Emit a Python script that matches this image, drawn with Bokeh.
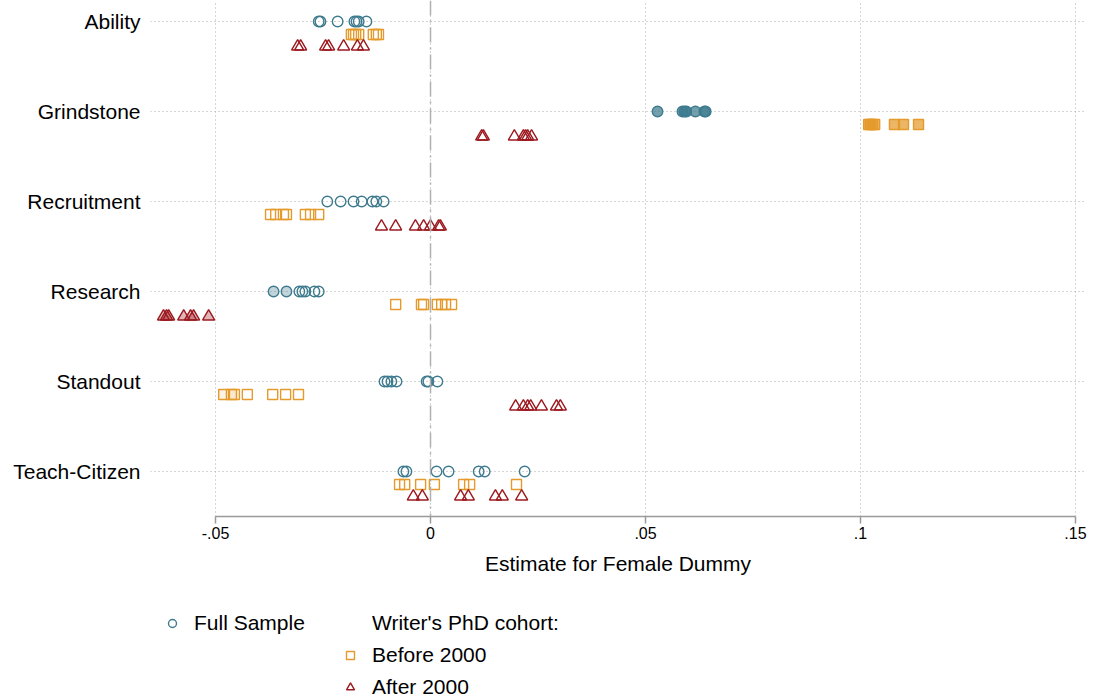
from bokeh.plotting import figure
from bokeh.layouts import column
from bokeh.models import (ColumnDataSource, Range1d, FixedTicker, Legend,
                          LegendItem, Span)
from bokeh.embed import file_html
from bokeh.resources import INLINE

categories = ["Ability", "Grindstone", "Recruitment", "Research", "Standout", "Teach-Citizen"]

full_sample = [
    [-0.0260, -0.0256, -0.0216, -0.0177, -0.0172, -0.0167, -0.0149],
    [0.0528, 0.0586, 0.0591, 0.0595, 0.0616, 0.0637, 0.0640],
    [-0.0240, -0.0209, -0.0179, -0.0160, -0.0135, -0.0126, -0.0109],
    [-0.0365, -0.0335, -0.0305, -0.0298, -0.0291, -0.0270, -0.0260],
    [-0.0107, -0.0100, -0.0091, -0.0079, -0.0009, -0.0005, 0.0016],
    [-0.0063, -0.0056, 0.0014, 0.0042, 0.0112, 0.0126, 0.0219],
]
before_2000 = [
    [-0.0184, -0.0179, -0.0174, -0.0167, -0.0133, -0.0126, -0.0121],
    [0.1019, 0.1023, 0.1028, 0.1033, 0.1079, 0.1100, 0.1135],
    [-0.0372, -0.0360, -0.0342, -0.0335, -0.0291, -0.0279, -0.0260],
    [-0.0081, -0.0021, -0.0016, 0.0016, 0.0026, 0.0035, 0.0049],
    [-0.0481, -0.0463, -0.0456, -0.0426, -0.0367, -0.0337, -0.0307],
    [-0.0072, -0.0060, -0.0023, 0.0009, 0.0077, 0.0091, 0.0200],
]
after_2000 = [
    [-0.0309, -0.0302, -0.0244, -0.0237, -0.0202, -0.0170, -0.0156],
    [0.0119, 0.0123, 0.0195, 0.0216, 0.0221, 0.0226, 0.0235],
    [-0.0114, -0.0081, -0.0035, -0.0016, 0.0000, 0.0019, 0.0023],
    [-0.0621, -0.0614, -0.0609, -0.0574, -0.0558, -0.0551, -0.0516],
    [0.0198, 0.0216, 0.0226, 0.0233, 0.0258, 0.0293, 0.0302],
    [-0.0040, -0.0019, 0.0070, 0.0088, 0.0151, 0.0167, 0.0212],
]
# significance level of each estimate (0 = none ... 3 = strongest)
full_sig = [
    [0] * 7, [3] * 7, [0] * 7, [2, 2, 0, 0, 0, 0, 0], [0] * 7, [0] * 7,
]
before_sig = [
    [0] * 7, [3] * 7, [0] * 7, [0] * 7, [1, 1, 1, 0, 0, 0, 0], [0] * 7,
]
after_sig = [
    [0] * 7, [0] * 7, [0] * 7, [2] * 7, [0] * 7, [0] * 7,
]

x_ticks = [-0.05, 0, 0.05, 0.1, 0.15]
x_tick_labels = ["-.05", "0", ".05", ".1", ".15"]

legend_labels = ["Full Sample", "Writer's PhD cohort:", "Before 2000", "After 2000"]

FONT = "Liberation Sans"
TEAL = "#3f7b8f"
ORANGE = "#e59a2c"
RED = "#9c1a20"
SIG_ALPHA = {0: 0.0, 1: 0.12, 2: 0.32, 3: 0.72}
NAN = float("nan")


def make_source(values, sigs, offset):
    xs, ys, fa = [], [], []
    for i, (vals, sg) in enumerate(zip(values, sigs)):
        for v, s in zip(vals, sg):
            xs.append(v)
            ys.append(-i + offset)
            fa.append(SIG_ALPHA[s])
    return ColumnDataSource(dict(x=xs, y=ys, fa=fa))


p = figure(width=1093, height=590, output_backend="svg", toolbar_location=None,
           x_range=Range1d(-0.06512, 0.15233), y_range=Range1d(-5.5, 21 / 90),
           min_border_left=150, min_border_right=8, min_border_top=0,
           min_border_bottom=74)
p.outline_line_color = None
p.background_fill_color = "white"
p.border_fill_color = "white"

# x axis
xa = p.xaxis[0]
xa.ticker = FixedTicker(ticks=x_ticks)
xa.major_label_overrides = {t: l for t, l in zip(x_ticks, x_tick_labels)}
xa.bounds = (x_ticks[0], x_ticks[-1])
xa.axis_line_color = "#9a9a9a"
xa.axis_line_width = 1.5
xa.major_tick_line_color = "#9a9a9a"
xa.major_tick_line_width = 1.5
xa.major_tick_out = 7
xa.major_tick_in = 0
xa.minor_tick_line_color = None
xa.major_label_text_font = FONT
xa.major_label_text_font_size = "16px"
xa.major_label_text_color = "black"
xa.major_label_standoff = 3
xa.axis_label = "Estimate for Female Dummy"
xa.axis_label_text_font = FONT
xa.axis_label_text_font_size = "21px"
xa.axis_label_text_font_style = "normal"
xa.axis_label_text_color = "black"
xa.axis_label_standoff = 10

# y axis
ya = p.yaxis[0]
y_ticks = [-i for i in range(len(categories))]
ya.ticker = FixedTicker(ticks=y_ticks)
ya.major_label_overrides = {t: c for t, c in zip(y_ticks, categories)}
ya.axis_line_color = None
ya.major_tick_line_color = None
ya.minor_tick_line_color = None
ya.major_label_text_font = FONT
ya.major_label_text_font_size = "21px"
ya.major_label_text_color = "black"
ya.major_label_standoff = 4

# grids
p.xgrid.ticker = FixedTicker(ticks=x_ticks)
p.xgrid.grid_line_color = "#ababab"
p.xgrid.grid_line_dash = "1 3"
p.xgrid.grid_line_width = 1
p.ygrid.ticker = FixedTicker(ticks=y_ticks)
p.ygrid.grid_line_color = "#ababab"
p.ygrid.grid_line_dash = "1 3"
p.ygrid.grid_line_width = 1

p.add_layout(Span(location=0, dimension="height", line_color="#b0b0b0",
                  line_width=1.5, line_dash="15 5 2 5"))

src_full = make_source(full_sample, full_sig, 0.0)
src_before = make_source(before_2000, before_sig, -13 / 90)
src_after = make_source(after_2000, after_sig, -25 / 90)

p.scatter("x", "y", source=src_full, marker="circle", size=10.5,
          line_color=TEAL, line_width=1.4, fill_color=TEAL, fill_alpha="fa")
p.scatter("x", "y", source=src_before, marker="square", size=10,
          line_color=ORANGE, line_width=1.4, fill_color=ORANGE, fill_alpha="fa")
p.scatter("x", "y", source=src_after, marker="triangle", size=12,
          line_color=RED, line_width=1.4, fill_color=RED, fill_alpha="fa")

# legend strip below the chart (its frame is aligned with the chart frame)
pl = figure(width=1093, height=109, output_backend="svg", toolbar_location=None,
            x_range=Range1d(0, 1), y_range=Range1d(0, 1),
            x_axis_location=None, y_axis_location=None,
            min_border_left=0, min_border_right=0, min_border_top=0,
            min_border_bottom=0)
pl.outline_line_color = None
pl.xgrid.visible = False
pl.ygrid.visible = False
pl.background_fill_color = "white"
pl.border_fill_color = "white"

lr_full = pl.scatter(x=[NAN], y=[NAN], marker="circle", line_color=TEAL,
                     line_width=1.4, fill_alpha=0)
lr_blank = pl.scatter(x=[NAN], y=[NAN], marker="circle", line_alpha=0, fill_alpha=0)
lr_before = pl.scatter(x=[NAN], y=[NAN], marker="square", line_color=ORANGE,
                       line_width=1.4, fill_alpha=0)
lr_after = pl.scatter(x=[NAN], y=[NAN], marker="triangle", line_color=RED,
                      line_width=1.4, fill_alpha=0)


def style_legend(lg):
    lg.label_text_font = FONT
    lg.label_text_font_size = "21px"
    lg.label_text_color = "black"
    lg.border_line_alpha = 0
    lg.background_fill_alpha = 0
    lg.padding = 0
    lg.margin = 0
    lg.spacing = 8
    lg.glyph_width = 20
    lg.glyph_height = 20
    lg.label_height = 24
    lg.label_standoff = 12


leg1 = Legend(items=[LegendItem(label=legend_labels[0], renderers=[lr_full])],
              location=(12, 64))
style_legend(leg1)
leg2 = Legend(items=[LegendItem(label=legend_labels[1], renderers=[lr_blank]),
                     LegendItem(label=legend_labels[2], renderers=[lr_before]),
                     LegendItem(label=legend_labels[3], renderers=[lr_after])],
              location=(190, 0))
style_legend(leg2)
pl.add_layout(leg1)
pl.add_layout(leg2)

layout = column(p, pl, spacing=0)
open("out.html", "w").write(file_html(layout, INLINE))
